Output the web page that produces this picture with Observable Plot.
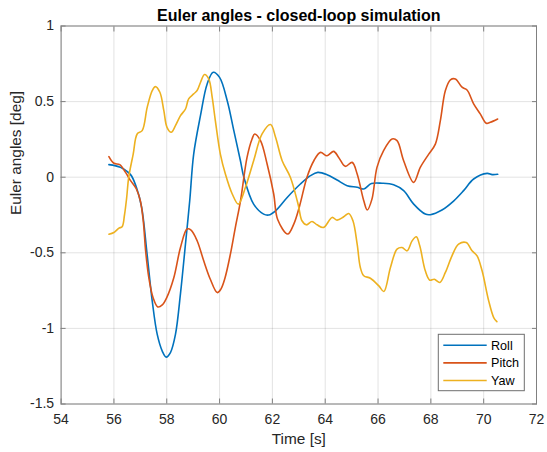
<!DOCTYPE html>
<html>
<head>
<meta charset="utf-8">
<script src="https://cdn.jsdelivr.net/npm/d3@7"></script>
<script src="https://cdn.jsdelivr.net/npm/@observablehq/plot@0.6"></script>
<style>
  body { margin: 0; background: #fff; }
  #chart svg { display: block; }
</style>
</head>
<body>
<div id="chart"></div>
<script>
// Euler angles from the closed-loop simulation, in degrees, sampled over time [s]
const rollTime = [55.81, 56.25, 56.63, 56.85, 57.05, 57.25, 57.45, 57.64, 57.83, 57.98, 58.14, 58.33, 58.52, 58.71, 58.87, 59.02, 59.28, 59.53, 59.76, 60.0, 60.29, 60.54, 60.79, 60.92, 61.29, 61.67, 61.86, 62.12, 62.56, 63.06, 63.44, 63.72, 64.07, 64.45, 64.83, 65.21, 65.46, 65.75, 66.15, 66.59, 66.97, 67.35, 67.79, 67.98, 68.42, 68.87, 69.24, 69.62, 70.13, 70.32, 70.53];
const rollDeg  = [0.083, 0.065, 0.017, -0.067, -0.2, -0.5, -0.818, -1.04, -1.15, -1.19, -1.16, -1.04, -0.77, -0.44, -0.156, 0.153, 0.41, 0.617, 0.694, 0.66, 0.506, 0.308, 0.109, 0.0, -0.178, -0.244, -0.25, -0.222, -0.134, -0.045, 0.01, 0.032, 0.017, -0.019, -0.056, -0.067, -0.078, -0.042, -0.04, -0.05, -0.089, -0.178, -0.244, -0.248, -0.217, -0.156, -0.089, -0.012, 0.025, 0.017, 0.019];

const pitchTime = [55.81, 56.0, 56.22, 56.44, 56.63, 56.85, 57.0, 57.11, 57.2, 57.32, 57.48, 57.66, 57.83, 58.0, 58.27, 58.52, 58.77, 58.92, 59.15, 59.4, 59.65, 59.91, 60.05, 60.2, 60.41, 60.6, 60.79, 61.04, 61.23, 61.33, 61.55, 61.8, 62.05, 62.2, 62.58, 62.81, 63.03, 63.31, 63.57, 63.82, 64.07, 64.32, 64.51, 64.76, 65.02, 65.21, 65.46, 65.59, 65.77, 65.96, 66.21, 66.53, 66.72, 66.97, 67.35, 67.6, 67.92, 68.17, 68.36, 68.55, 68.74, 68.93, 69.18, 69.37, 69.62, 69.87, 70.1, 70.25, 70.53];
const pitchDeg  = [0.136, 0.092, 0.083, 0.032, -0.023, -0.078, -0.156, -0.288, -0.487, -0.663, -0.796, -0.858, -0.845, -0.796, -0.663, -0.465, -0.343, -0.35, -0.42, -0.553, -0.675, -0.763, -0.74, -0.67, -0.509, -0.33, -0.16, 0.131, 0.253, 0.286, 0.242, 0.087, -0.111, -0.28, -0.376, -0.31, -0.19, 0.0, 0.109, 0.164, 0.142, 0.171, 0.131, 0.072, 0.098, 0.021, -0.156, -0.217, -0.145, 0.065, 0.175, 0.253, 0.242, 0.109, -0.034, 0.065, 0.153, 0.219, 0.374, 0.573, 0.644, 0.65, 0.595, 0.577, 0.485, 0.419, 0.357, 0.363, 0.385];

const yawTime = [55.81, 56.0, 56.19, 56.31, 56.4, 56.48, 56.56, 56.73, 56.88, 57.07, 57.26, 57.45, 57.57, 57.74, 57.89, 58.01, 58.17, 58.33, 58.52, 58.71, 58.83, 59.02, 59.15, 59.28, 59.43, 59.59, 59.72, 59.84, 60.03, 60.22, 60.48, 60.71, 60.98, 61.29, 61.61, 61.93, 62.12, 62.37, 62.68, 62.94, 63.0, 63.12, 63.29, 63.5, 63.69, 63.94, 64.26, 64.45, 64.7, 64.89, 65.05, 65.21, 65.33, 65.46, 65.71, 66.03, 66.22, 66.47, 66.72, 66.91, 67.1, 67.29, 67.45, 67.58, 67.79, 67.96, 68.13, 68.34, 68.55, 68.8, 69.05, 69.34, 69.56, 69.75, 69.94, 70.19, 70.38, 70.5];
const yawDeg  = [-0.377, -0.366, -0.337, -0.328, -0.25, -0.14, -0.001, 0.153, 0.286, 0.308, 0.462, 0.572, 0.599, 0.562, 0.44, 0.33, 0.297, 0.341, 0.407, 0.451, 0.518, 0.551, 0.573, 0.628, 0.679, 0.65, 0.529, 0.374, 0.153, 0.021, -0.111, -0.178, -0.067, 0.109, 0.286, 0.348, 0.264, 0.109, 0.0, -0.156, -0.2, -0.288, -0.315, -0.293, -0.315, -0.332, -0.266, -0.284, -0.262, -0.24, -0.288, -0.443, -0.597, -0.652, -0.668, -0.719, -0.756, -0.597, -0.476, -0.465, -0.487, -0.421, -0.394, -0.454, -0.619, -0.681, -0.675, -0.696, -0.63, -0.52, -0.443, -0.432, -0.487, -0.52, -0.619, -0.818, -0.928, -0.955];

const seriesNames = ["Roll", "Pitch", "Yaw"];
const seriesColors = ["#0072BD", "#D95319", "#EDB120"];
const xTicks = [54, 56, 58, 60, 62, 64, 66, 68, 70, 72];
const yTicks = [-1.5, -1, -0.5, 0, 0.5, 1];
const titleText = "Euler angles - closed-loop simulation";
const xLabelText = "Time [s]";
const yLabelText = "Euler angles [deg]";

const samples = [
  {name: "Roll", time: rollTime, deg: rollDeg},
  {name: "Pitch", time: pitchTime, deg: pitchDeg},
  {name: "Yaw", time: yawTime, deg: yawDeg}
].flatMap(s => s.time.map((t, i) => ({series: s.name, time: t, deg: s.deg[i]})));

const axisGray = "#808080";
const textGray = "#262626";
const font = "'Liberation Sans', Arial, Helvetica, sans-serif";

const svg = Plot.plot({
  width: 547,
  height: 452,
  marginTop: 25.5,
  marginRight: 11,
  marginBottom: 48.5,
  marginLeft: 60.6,
  style: {fontFamily: font, fontSize: "14px", color: textGray, background: "#fff"},
  x: {domain: [54, 72]},
  y: {domain: [-1.5, 1]},
  color: {domain: seriesNames, range: seriesColors},
  marks: [
    Plot.gridX(xTicks, {stroke: "#262626", strokeOpacity: 0.13}),
    Plot.gridY(yTicks, {stroke: "#262626", strokeOpacity: 0.13}),
    // inward tick marks on all four sides
    Plot.axisX(xTicks, {anchor: "bottom", tickSize: -5, tickFormat: () => "", stroke: axisGray, label: null}),
    Plot.axisX(xTicks, {anchor: "top", tickSize: -5, tickFormat: () => "", stroke: axisGray, label: null}),
    Plot.axisY(yTicks, {anchor: "left", tickSize: -5, tickFormat: () => "", stroke: axisGray, label: null}),
    Plot.axisY(yTicks, {anchor: "right", tickSize: -5, tickFormat: () => "", stroke: axisGray, label: null}),
    // tick labels
    Plot.axisX(xTicks, {anchor: "bottom", tickSize: 0, tickPadding: 10, fill: textGray, label: null, fontSize: 14}),
    Plot.axisY(yTicks, {anchor: "left", tickSize: 0, tickPadding: 7, fill: textGray, label: null, fontSize: 14, tickFormat: d => String(d)}),
    Plot.frame({stroke: axisGray}),
    Plot.line(samples, {x: "time", y: "deg", z: "series", stroke: "series", strokeWidth: 1.6, curve: "catmull-rom"}),
    Plot.text([titleText], {frameAnchor: "top", lineAnchor: "middle", dy: -10, fontWeight: "bold", fontSize: 16, fill: "#000"}),
    Plot.text([xLabelText], {frameAnchor: "bottom", lineAnchor: "middle", dy: 35, fontSize: 15.4, fill: textGray}),
    Plot.text([yLabelText], {frameAnchor: "left", lineAnchor: "middle", rotate: -90, dx: -45, fontSize: 15.4, fill: textGray})
  ]
});

// legend box in the lower right corner of the axes
const legend = d3.select(svg).append("g")
  .attr("font-family", font).attr("font-size", 12.6).attr("text-anchor", "start");
legend.append("rect")
  .attr("x", 438.3).attr("y", 334.3).attr("width", 86).attr("height", 56.4)
  .attr("fill", "#fff").attr("stroke", "#6e6e6e").attr("stroke-width", 1);
seriesNames.forEach((name, i) => {
  const y = 345.3 + i * 17.6;
  legend.append("line")
    .attr("x1", 443.3).attr("x2", 486.7).attr("y1", y).attr("y2", y)
    .attr("stroke", seriesColors[i]).attr("stroke-width", 1.6);
  legend.append("text")
    .attr("x", 491).attr("y", y).attr("dy", "0.35em")
    .attr("fill", "#000").text(name);
});

document.getElementById("chart").appendChild(svg);
</script>
</body>
</html>
